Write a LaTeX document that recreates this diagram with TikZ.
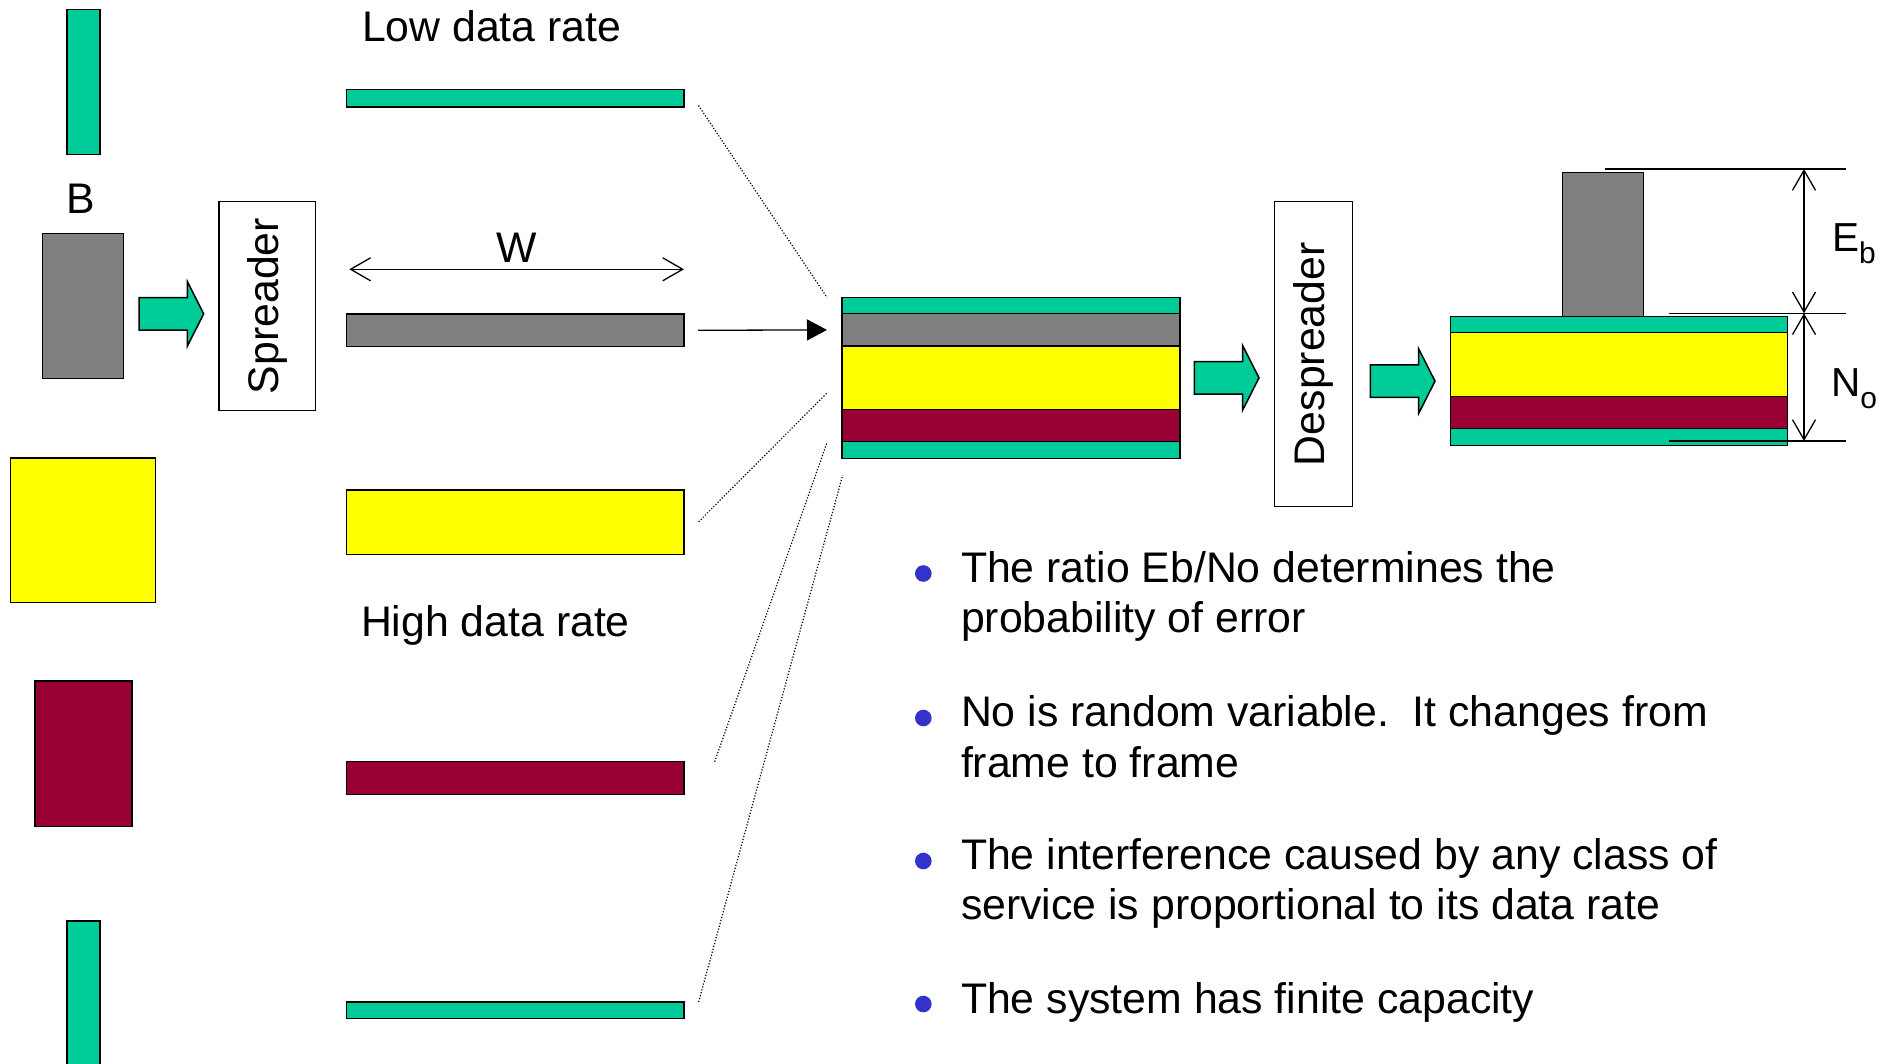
\documentclass[tikz,border=0pt]{standalone}
\usepackage{fontspec}
\setmainfont{Liberation Sans}
\usetikzlibrary{fit,arrows.meta}
\definecolor{cteal}{HTML}{00CC99}
\definecolor{cgray}{HTML}{808080}
\definecolor{cyel}{HTML}{FFFF00}
\definecolor{cmar}{HTML}{990033}
\definecolor{cblue}{HTML}{3333CC}
\newcommand\rbox[6]{\node[blk,fill=#2,fit={(#3,#4)(#5,#6)}] (#1) {};}
\newcommand\barrow[2]{\draw[barrowst] (#1,#2-16.2) -- ++(48.4,0) -- ++(0,-16) -- (#1+64.7,#2) -- (#1+48.4,#2+32.2) -- ++(0,-16) -- (#1,#2+16.2) -- cycle;}
\begin{document}
\begin{tikzpicture}[x=1pt,y=-1pt,
  blk/.style={draw=black,line width=1.5pt,inner sep=0pt,outer sep=0pt},
  lbl/.style={inner sep=0pt,outer sep=0pt,font=\fontsize{42.8}{50}\selectfont\frenchspacing},
  dlbl/.style={inner sep=0pt,outer sep=0pt,font=\fontsize{40.5}{48}\selectfont},
  dots/.style={line width=1.2pt,dash pattern=on 1.2pt off 1.8pt},
  barrowst/.style={draw=black,fill=cteal,line width=1.5pt,line join=miter},
  dimline/.style={line width=1.3pt},
  dimarr/.style={line width=1.3pt,{Straight Barb[length=20pt,width=23pt]}-{Straight Barb[length=20pt,width=23pt]}},
  bul/.style={fill=cblue}]
\useasboundingbox[fill=white] (0,0) rectangle (1894,1064);

% left column
\rbox{lt}{cteal}{67}{9.7}{100}{154.3}
\rbox{lg}{cgray}{42.7}{233.7}{123.5}{378.7}
\rbox{ly}{cyel}{10.3}{457.8}{155.6}{602.3}
\rbox{lm}{cmar}{35}{681}{132}{826.6}
\rbox{lb}{cteal}{67}{921}{100}{1070}
\node[lbl,anchor=base] (Blbl) at (81,214) {B};

% spreader
\barrow{139}{313.85}
\node[blk,rotate=90,minimum width=208.6pt,minimum height=96.4pt,lbl] (spr) at (267.2,306) {Spreader};

% middle bars
\node[lbl,anchor=base west] (low) at (362,41.7) {Low data rate};
\rbox{mt}{cteal}{346.7}{89.7}{684}{107}
\coordinate (wl) at (349.3,269.3);
\coordinate (wr) at (684,269.3);
\draw[dimarr] (wl) -- (wr);
\node[lbl,anchor=base] (W) at (516.5,262.3) {W};
\rbox{mg}{cgray}{346.7}{314}{684}{346.7}
\rbox{my}{cyel}{346.7}{489.8}{684}{554.3}
\node[lbl,anchor=base west] (high) at (361,636.4) {High data rate};
\rbox{mm}{cmar}{346.7}{761.7}{684}{794.5}
\rbox{mb}{cteal}{346.7}{1002}{684}{1018.4}

% center stack
\rbox{c1}{cteal}{842}{297.5}{1180}{313.7}
\rbox{c2}{cgray}{842}{313.7}{1180}{346}
\rbox{c3}{cyel}{842}{346}{1180}{409.3}
\rbox{c4}{cmar}{842}{409.3}{1180}{441.7}
\rbox{c5}{cteal}{842}{441.7}{1180}{458.3}

% connectors
\draw[line width=1.3pt,-{Triangle[length=20pt,width=21pt]},shorten <=14pt,shorten >=15pt] (mg.east) -- (c2.west);
\coordinate (d1a) at (698.5,105.5); \coordinate (d1b) at (827,297.5);
\coordinate (d2a) at (698.6,521.8); \coordinate (d2b) at (827,393);
\coordinate (d3a) at (714.7,761.7); \coordinate (d3b) at (827,442.5);
\coordinate (d4a) at (698.6,1002);  \coordinate (d4b) at (842.7,475);
\draw[dots] (d1a) -- (d1b);
\draw[dots] (d2a) -- (d2b);
\draw[dots] (d3a) -- (d3b);
\draw[dots] (d4a) -- (d4b);

% despreader
\barrow{1194.3}{377.85}
\node[blk,rotate=90,minimum width=305pt,minimum height=78.4pt,lbl] (desp) at (1313.5,354.2) {Despreader};
\barrow{1370.3}{381.15}

% right stack
\rbox{rg}{cgray}{1562.7}{172.7}{1643.7}{317.7}
\rbox{r1}{cteal}{1450.7}{316.7}{1787.7}{332.7}
\rbox{r2}{cyel}{1450.7}{332.7}{1787.7}{396.7}
\rbox{r3}{cmar}{1450.7}{396.7}{1787.7}{428.7}
\rbox{r4}{cteal}{1450.7}{428.7}{1787.7}{445.3}

% dimensions
\coordinate (h1a) at (1604.7,169);   \coordinate (h1b) at (1846,169);
\coordinate (h2a) at (1668.7,313.3); \coordinate (h2b) at (1846,313.3);
\coordinate (h3a) at (1668.7,441);   \coordinate (h3b) at (1846,441);
\draw[dimline] (h1a) -- (h1b);
\draw[dimline] (h2a) -- (h2b);
\draw[dimline] (h3a) -- (h3b);
\coordinate (v1) at (1804,169);
\coordinate (v2) at (1804,313.3);
\coordinate (v3) at (1804,441);
\draw[dimarr] (v1) -- (v2);
\draw[dimarr] (v2) -- (v3);
\node[dlbl,anchor=base west] (Eb) at (1832,251.7) {E\raisebox{-12pt}{\fontsize{30}{36}\selectfont b}};
\node[dlbl,anchor=base west] (No) at (1831,396.7) {N\raisebox{-12pt}{\fontsize{30}{36}\selectfont o}};

% bullets
\fill[bul] (923.3,573.5) circle[radius=8.3pt];
\fill[bul] (923.3,718) circle[radius=8.3pt];
\fill[bul] (923.3,861) circle[radius=8.3pt];
\fill[bul] (923.3,1004) circle[radius=8.3pt];
\node[lbl,anchor=base west] (t1a) at (961,582.5) {The ratio Eb/No determines the};
\node[lbl,anchor=base west] (t1b) at (961,632.8) {probability of error};
\node[lbl,anchor=base west] (t2a) at (961,726.6) {No is random variable.\ \ It changes from};
\node[lbl,anchor=base west] (t2b) at (961,777) {frame to frame};
\node[lbl,anchor=base west] (t3a) at (961,869) {The interference caused by any class of};
\node[lbl,anchor=base west] (t3b) at (961,919) {service is proportional to its data rate};
\node[lbl,anchor=base west] (t4) at (961,1013) {The system has finite capacity};
\end{tikzpicture}
\end{document}
